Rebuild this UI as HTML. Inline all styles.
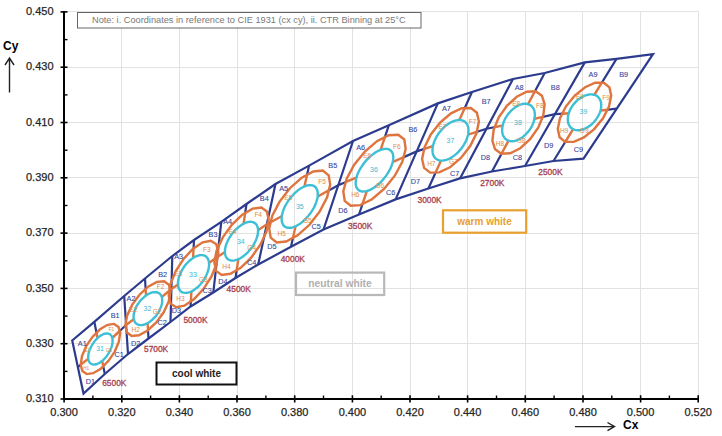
<!DOCTYPE html>
<html><head><meta charset="utf-8"><style>
html,body{margin:0;padding:0;background:#fff;}
svg{display:block;font-family:"Liberation Sans",sans-serif;}
</style></head><body>
<svg width="722" height="436" viewBox="0 0 722 436">
<g stroke="#e2e2e2" stroke-width="1"><line x1="121.5" y1="11" x2="121.5" y2="399" /><line x1="179.5" y1="11" x2="179.5" y2="399" /><line x1="237.5" y1="11" x2="237.5" y2="399" /><line x1="294.5" y1="11" x2="294.5" y2="399" /><line x1="352.5" y1="11" x2="352.5" y2="399" /><line x1="410.5" y1="11" x2="410.5" y2="399" /><line x1="467.5" y1="11" x2="467.5" y2="399" /><line x1="525.5" y1="11" x2="525.5" y2="399" /><line x1="582.5" y1="11" x2="582.5" y2="399" /><line x1="640.5" y1="11" x2="640.5" y2="399" /><line x1="698.5" y1="11" x2="698.5" y2="399" /><line x1="64" y1="343.5" x2="698.5" y2="343.5" /><line x1="64" y1="288.5" x2="698.5" y2="288.5" /><line x1="64" y1="233.5" x2="698.5" y2="233.5" /><line x1="64" y1="177.5" x2="698.5" y2="177.5" /><line x1="64" y1="122.5" x2="698.5" y2="122.5" /><line x1="64" y1="67.5" x2="698.5" y2="67.5" /><line x1="64" y1="11.5" x2="698.5" y2="11.5" /></g>
<defs><mask id="mo" maskUnits="userSpaceOnUse" x="0" y="0" width="722" height="436"><rect x="0" y="0" width="722" height="436" fill="#fff"/><path d="M118.5,326.9 L120.1,333.2 L118.8,342.0 L114.6,351.8 L108.3,361.1 L100.8,368.7 L93.2,373.2 L86.7,374.1 L82.3,371.1 L80.7,364.8 L82.0,356.0 L86.2,346.2 L92.5,336.9 L100.0,329.3 L107.6,324.8 L114.1,323.9Z" fill="#000"/><path d="M168.9,284.7 L170.5,291.8 L168.7,301.5 L163.7,312.3 L156.3,322.5 L147.6,330.5 L138.9,335.3 L131.7,336.0 L126.9,332.5 L125.3,325.4 L127.1,315.7 L132.1,304.9 L139.5,294.7 L148.2,286.7 L156.9,281.9 L164.1,281.2Z" fill="#000"/><path d="M216.3,244.3 L218.3,252.4 L216.6,263.7 L211.4,276.6 L203.4,289.1 L193.9,299.3 L184.4,305.7 L176.2,307.2 L170.7,303.7 L168.7,295.6 L170.4,284.3 L175.6,271.4 L183.6,258.9 L193.1,248.7 L202.6,242.3 L210.8,240.8Z" fill="#000"/><path d="M266.9,211.5 L268.7,220.1 L266.4,231.8 L260.2,245.0 L251.2,257.6 L240.7,267.8 L230.4,273.8 L221.7,274.9 L216.1,270.9 L214.3,262.3 L216.6,250.6 L222.8,237.4 L231.8,224.8 L242.3,214.6 L252.6,208.6 L261.3,207.5Z" fill="#000"/><path d="M328.7,175.3 L330.2,184.6 L327.1,197.3 L319.8,211.4 L309.5,224.8 L297.6,235.3 L286.1,241.5 L276.6,242.4 L270.7,237.7 L269.2,228.4 L272.3,215.7 L279.6,201.6 L289.9,188.2 L301.8,177.7 L313.3,171.5 L322.8,170.6Z" fill="#000"/><path d="M404.3,139.5 L405.7,149.0 L402.3,161.7 L394.8,175.7 L384.1,188.9 L372.0,199.2 L360.3,205.1 L350.7,205.7 L344.7,200.9 L343.3,191.4 L346.7,178.7 L354.2,164.7 L364.9,151.5 L377.0,141.2 L388.7,135.3 L398.3,134.7Z" fill="#000"/><path d="M476.9,112.7 L478.9,121.5 L476.5,133.3 L470.2,146.1 L460.9,158.0 L450.0,167.3 L439.2,172.4 L430.1,172.6 L424.1,167.9 L422.1,159.1 L424.5,147.3 L430.8,134.5 L440.1,122.6 L451.0,113.3 L461.8,108.2 L470.9,108.0Z" fill="#000"/><path d="M541.9,95.7 L544.6,104.1 L543.3,115.4 L538.2,127.7 L530.1,139.2 L520.3,148.2 L510.2,153.3 L501.3,153.7 L495.1,149.3 L492.4,140.9 L493.7,129.6 L498.8,117.3 L506.9,105.8 L516.7,96.8 L526.8,91.7 L535.7,91.3Z" fill="#000"/><path d="M609.4,87.3 L611.2,95.6 L609.0,106.5 L603.0,118.3 L594.2,129.1 L583.9,137.4 L573.8,141.9 L565.2,141.9 L559.6,137.3 L557.8,129.0 L560.0,118.1 L566.0,106.3 L574.8,95.5 L585.1,87.2 L595.2,82.7 L603.8,82.7Z" fill="#000"/></mask><mask id="mi" maskUnits="userSpaceOnUse" x="0" y="0" width="722" height="436"><rect x="0" y="0" width="722" height="436" fill="#000"/><path d="M118.5,326.9 L120.1,333.2 L118.8,342.0 L114.6,351.8 L108.3,361.1 L100.8,368.7 L93.2,373.2 L86.7,374.1 L82.3,371.1 L80.7,364.8 L82.0,356.0 L86.2,346.2 L92.5,336.9 L100.0,329.3 L107.6,324.8 L114.1,323.9Z" fill="#fff"/><path d="M168.9,284.7 L170.5,291.8 L168.7,301.5 L163.7,312.3 L156.3,322.5 L147.6,330.5 L138.9,335.3 L131.7,336.0 L126.9,332.5 L125.3,325.4 L127.1,315.7 L132.1,304.9 L139.5,294.7 L148.2,286.7 L156.9,281.9 L164.1,281.2Z" fill="#fff"/><path d="M216.3,244.3 L218.3,252.4 L216.6,263.7 L211.4,276.6 L203.4,289.1 L193.9,299.3 L184.4,305.7 L176.2,307.2 L170.7,303.7 L168.7,295.6 L170.4,284.3 L175.6,271.4 L183.6,258.9 L193.1,248.7 L202.6,242.3 L210.8,240.8Z" fill="#fff"/><path d="M266.9,211.5 L268.7,220.1 L266.4,231.8 L260.2,245.0 L251.2,257.6 L240.7,267.8 L230.4,273.8 L221.7,274.9 L216.1,270.9 L214.3,262.3 L216.6,250.6 L222.8,237.4 L231.8,224.8 L242.3,214.6 L252.6,208.6 L261.3,207.5Z" fill="#fff"/><path d="M328.7,175.3 L330.2,184.6 L327.1,197.3 L319.8,211.4 L309.5,224.8 L297.6,235.3 L286.1,241.5 L276.6,242.4 L270.7,237.7 L269.2,228.4 L272.3,215.7 L279.6,201.6 L289.9,188.2 L301.8,177.7 L313.3,171.5 L322.8,170.6Z" fill="#fff"/><path d="M404.3,139.5 L405.7,149.0 L402.3,161.7 L394.8,175.7 L384.1,188.9 L372.0,199.2 L360.3,205.1 L350.7,205.7 L344.7,200.9 L343.3,191.4 L346.7,178.7 L354.2,164.7 L364.9,151.5 L377.0,141.2 L388.7,135.3 L398.3,134.7Z" fill="#fff"/><path d="M476.9,112.7 L478.9,121.5 L476.5,133.3 L470.2,146.1 L460.9,158.0 L450.0,167.3 L439.2,172.4 L430.1,172.6 L424.1,167.9 L422.1,159.1 L424.5,147.3 L430.8,134.5 L440.1,122.6 L451.0,113.3 L461.8,108.2 L470.9,108.0Z" fill="#fff"/><path d="M541.9,95.7 L544.6,104.1 L543.3,115.4 L538.2,127.7 L530.1,139.2 L520.3,148.2 L510.2,153.3 L501.3,153.7 L495.1,149.3 L492.4,140.9 L493.7,129.6 L498.8,117.3 L506.9,105.8 L516.7,96.8 L526.8,91.7 L535.7,91.3Z" fill="#fff"/><path d="M609.4,87.3 L611.2,95.6 L609.0,106.5 L603.0,118.3 L594.2,129.1 L583.9,137.4 L573.8,141.9 L565.2,141.9 L559.6,137.3 L557.8,129.0 L560.0,118.1 L566.0,106.3 L574.8,95.5 L585.1,87.2 L595.2,82.7 L603.8,82.7Z" fill="#fff"/><path d="M109.8,334.2 L110.5,334.8 L111.1,335.5 L111.7,336.3 L112.1,337.3 L112.4,338.3 L112.5,339.5 L112.6,340.7 L112.5,342.1 L112.4,343.5 L112.1,344.9 L111.7,346.4 L111.2,347.9 L110.6,349.4 L109.8,351.0 L109.0,352.5 L108.2,353.9 L107.2,355.4 L106.2,356.7 L105.1,358.0 L104.0,359.2 L102.8,360.3 L101.6,361.3 L100.4,362.2 L99.2,362.9 L98.1,363.5 L96.9,364.0 L95.8,364.3 L94.7,364.5 L93.7,364.6 L92.7,364.4 L91.8,364.2 L91.0,363.8 L90.3,363.2 L89.7,362.5 L89.1,361.7 L88.7,360.7 L88.4,359.7 L88.3,358.5 L88.2,357.3 L88.3,355.9 L88.4,354.5 L88.7,353.1 L89.1,351.6 L89.6,350.1 L90.2,348.6 L91.0,347.0 L91.8,345.5 L92.6,344.1 L93.6,342.6 L94.6,341.3 L95.7,340.0 L96.8,338.8 L98.0,337.7 L99.2,336.7 L100.4,335.8 L101.6,335.1 L102.7,334.5 L103.9,334.0 L105.0,333.7 L106.1,333.5 L107.1,333.4 L108.1,333.6 L109.0,333.8Z" fill="#000"/><path d="M159.3,293.4 L160.1,294.1 L160.8,295.0 L161.3,296.0 L161.8,297.1 L162.1,298.3 L162.2,299.6 L162.2,301.0 L162.1,302.5 L161.8,304.0 L161.4,305.6 L160.9,307.2 L160.2,308.8 L159.5,310.4 L158.6,312.0 L157.6,313.6 L156.5,315.1 L155.4,316.6 L154.1,317.9 L152.8,319.2 L151.5,320.4 L150.1,321.5 L148.7,322.4 L147.3,323.3 L145.9,323.9 L144.5,324.5 L143.2,324.8 L141.9,325.0 L140.6,325.1 L139.5,325.0 L138.4,324.8 L137.4,324.3 L136.5,323.8 L135.7,323.1 L135.0,322.2 L134.5,321.2 L134.0,320.1 L133.7,318.9 L133.6,317.6 L133.6,316.2 L133.7,314.7 L134.0,313.2 L134.4,311.6 L134.9,310.0 L135.6,308.4 L136.3,306.8 L137.2,305.2 L138.2,303.6 L139.3,302.1 L140.4,300.6 L141.7,299.3 L143.0,298.0 L144.3,296.8 L145.7,295.7 L147.1,294.8 L148.5,293.9 L149.9,293.3 L151.3,292.7 L152.6,292.4 L153.9,292.2 L155.2,292.1 L156.3,292.2 L157.4,292.4 L158.4,292.9Z" fill="#000"/><path d="M205.7,256.3 L206.6,257.0 L207.3,257.9 L208.0,259.0 L208.5,260.2 L208.8,261.5 L209.0,263.0 L209.1,264.5 L209.0,266.2 L208.7,267.9 L208.4,269.7 L207.8,271.5 L207.1,273.4 L206.3,275.3 L205.4,277.1 L204.4,278.9 L203.2,280.7 L202.0,282.4 L200.7,284.0 L199.3,285.5 L197.8,287.0 L196.3,288.2 L194.8,289.4 L193.3,290.4 L191.8,291.3 L190.3,291.9 L188.8,292.4 L187.3,292.8 L186.0,292.9 L184.7,292.9 L183.5,292.7 L182.3,292.3 L181.3,291.7 L180.4,291.0 L179.7,290.1 L179.0,289.0 L178.5,287.8 L178.2,286.5 L178.0,285.0 L177.9,283.5 L178.0,281.8 L178.3,280.1 L178.6,278.3 L179.2,276.5 L179.9,274.6 L180.7,272.7 L181.6,270.9 L182.6,269.1 L183.8,267.3 L185.0,265.6 L186.3,264.0 L187.7,262.5 L189.2,261.0 L190.7,259.8 L192.2,258.6 L193.7,257.6 L195.2,256.7 L196.7,256.1 L198.2,255.6 L199.7,255.2 L201.0,255.1 L202.3,255.1 L203.5,255.3 L204.7,255.7Z" fill="#000"/><path d="M255.0,223.2 L255.9,224.0 L256.7,225.0 L257.2,226.1 L257.7,227.4 L258.0,228.8 L258.1,230.3 L258.0,231.9 L257.9,233.6 L257.5,235.4 L257.0,237.2 L256.3,239.1 L255.5,241.0 L254.6,242.9 L253.5,244.8 L252.4,246.6 L251.1,248.4 L249.7,250.1 L248.3,251.8 L246.7,253.3 L245.2,254.7 L243.6,256.0 L241.9,257.2 L240.3,258.2 L238.7,259.0 L237.1,259.7 L235.6,260.2 L234.1,260.5 L232.7,260.6 L231.3,260.5 L230.1,260.2 L229.0,259.8 L228.0,259.2 L227.1,258.4 L226.3,257.4 L225.8,256.3 L225.3,255.0 L225.0,253.6 L224.9,252.1 L225.0,250.5 L225.1,248.8 L225.5,247.0 L226.0,245.2 L226.7,243.3 L227.5,241.4 L228.4,239.5 L229.5,237.6 L230.6,235.8 L231.9,234.0 L233.3,232.3 L234.7,230.6 L236.3,229.1 L237.8,227.7 L239.4,226.4 L241.1,225.2 L242.7,224.2 L244.3,223.4 L245.9,222.7 L247.4,222.2 L248.9,221.9 L250.3,221.8 L251.7,221.9 L252.9,222.2 L254.0,222.6Z" fill="#000"/><path d="M314.7,186.5 L315.7,187.4 L316.4,188.4 L317.0,189.6 L317.5,191.0 L317.7,192.5 L317.8,194.1 L317.7,195.9 L317.5,197.7 L317.0,199.7 L316.4,201.7 L315.7,203.8 L314.8,205.9 L313.7,208.0 L312.5,210.0 L311.2,212.1 L309.8,214.1 L308.2,216.0 L306.6,217.8 L305.0,219.6 L303.2,221.1 L301.5,222.6 L299.7,223.9 L297.9,225.0 L296.2,226.0 L294.5,226.7 L292.8,227.3 L291.2,227.7 L289.7,227.8 L288.2,227.8 L286.9,227.6 L285.7,227.1 L284.7,226.5 L283.7,225.6 L283.0,224.6 L282.4,223.4 L281.9,222.0 L281.7,220.5 L281.6,218.9 L281.7,217.1 L281.9,215.3 L282.4,213.3 L283.0,211.3 L283.7,209.2 L284.6,207.1 L285.7,205.0 L286.9,203.0 L288.2,200.9 L289.6,198.9 L291.2,197.0 L292.8,195.2 L294.4,193.4 L296.2,191.9 L297.9,190.4 L299.7,189.1 L301.5,188.0 L303.2,187.0 L304.9,186.3 L306.6,185.7 L308.2,185.3 L309.7,185.2 L311.2,185.2 L312.5,185.4 L313.7,185.9Z" fill="#000"/><path d="M390.5,150.4 L391.4,151.3 L392.1,152.3 L392.7,153.5 L393.1,154.9 L393.3,156.5 L393.3,158.1 L393.1,159.9 L392.8,161.8 L392.2,163.8 L391.6,165.8 L390.7,167.9 L389.7,169.9 L388.5,172.0 L387.2,174.1 L385.8,176.1 L384.3,178.1 L382.7,180.0 L381.0,181.8 L379.2,183.5 L377.4,185.1 L375.6,186.5 L373.7,187.8 L371.9,188.9 L370.1,189.8 L368.3,190.5 L366.6,191.1 L365.0,191.4 L363.4,191.5 L362.0,191.5 L360.7,191.2 L359.5,190.7 L358.5,190.0 L357.6,189.1 L356.9,188.1 L356.3,186.9 L355.9,185.5 L355.7,183.9 L355.7,182.3 L355.9,180.5 L356.2,178.6 L356.8,176.6 L357.4,174.6 L358.3,172.5 L359.3,170.5 L360.5,168.4 L361.8,166.3 L363.2,164.3 L364.7,162.3 L366.3,160.4 L368.0,158.6 L369.8,156.9 L371.6,155.3 L373.4,153.9 L375.3,152.6 L377.1,151.5 L378.9,150.6 L380.7,149.9 L382.4,149.3 L384.0,149.0 L385.6,148.9 L387.0,148.9 L388.3,149.2 L389.5,149.7Z" fill="#000"/><path d="M465.0,121.8 L465.9,122.7 L466.8,123.8 L467.5,125.0 L468.0,126.4 L468.3,127.9 L468.5,129.6 L468.5,131.3 L468.3,133.1 L468.0,135.0 L467.4,137.0 L466.8,139.0 L465.9,140.9 L465.0,142.9 L463.8,144.9 L462.6,146.8 L461.2,148.7 L459.7,150.4 L458.2,152.1 L456.6,153.7 L454.9,155.1 L453.1,156.4 L451.4,157.6 L449.6,158.5 L447.8,159.3 L446.1,159.9 L444.4,160.3 L442.8,160.6 L441.2,160.6 L439.8,160.5 L438.4,160.1 L437.2,159.5 L436.0,158.8 L435.1,157.9 L434.2,156.8 L433.5,155.6 L433.0,154.2 L432.7,152.7 L432.5,151.0 L432.5,149.3 L432.7,147.5 L433.0,145.6 L433.6,143.6 L434.2,141.6 L435.1,139.7 L436.0,137.7 L437.2,135.7 L438.4,133.8 L439.8,131.9 L441.3,130.2 L442.8,128.5 L444.4,126.9 L446.1,125.5 L447.9,124.2 L449.6,123.0 L451.4,122.1 L453.2,121.3 L454.9,120.7 L456.6,120.3 L458.2,120.0 L459.8,120.0 L461.2,120.1 L462.6,120.5 L463.8,121.1Z" fill="#000"/><path d="M530.8,105.5 L531.8,106.4 L532.7,107.4 L533.4,108.5 L534.0,109.8 L534.5,111.2 L534.7,112.7 L534.9,114.3 L534.8,116.0 L534.6,117.8 L534.3,119.6 L533.8,121.4 L533.2,123.2 L532.4,125.0 L531.5,126.9 L530.4,128.6 L529.3,130.3 L528.0,131.9 L526.6,133.5 L525.2,134.9 L523.7,136.2 L522.2,137.4 L520.6,138.4 L519.0,139.3 L517.4,140.0 L515.8,140.6 L514.2,141.0 L512.7,141.2 L511.2,141.2 L509.8,141.0 L508.5,140.7 L507.3,140.2 L506.2,139.5 L505.2,138.6 L504.3,137.6 L503.6,136.5 L503.0,135.2 L502.5,133.8 L502.3,132.3 L502.1,130.7 L502.2,129.0 L502.4,127.2 L502.7,125.4 L503.2,123.6 L503.8,121.8 L504.6,120.0 L505.5,118.1 L506.6,116.4 L507.7,114.7 L509.0,113.1 L510.4,111.5 L511.8,110.1 L513.3,108.8 L514.8,107.6 L516.4,106.6 L518.0,105.7 L519.6,105.0 L521.2,104.4 L522.8,104.0 L524.3,103.8 L525.8,103.8 L527.2,104.0 L528.5,104.3 L529.7,104.8Z" fill="#000"/><path d="M597.7,96.6 L598.6,97.5 L599.4,98.6 L600.1,99.8 L600.6,101.1 L601.0,102.5 L601.2,104.1 L601.2,105.7 L601.1,107.3 L600.9,109.0 L600.4,110.8 L599.8,112.6 L599.1,114.3 L598.2,116.0 L597.2,117.7 L596.1,119.4 L594.8,121.0 L593.5,122.5 L592.1,123.9 L590.6,125.2 L589.0,126.3 L587.4,127.4 L585.8,128.2 L584.1,129.0 L582.5,129.5 L580.9,129.9 L579.3,130.2 L577.8,130.2 L576.3,130.1 L574.9,129.8 L573.6,129.4 L572.4,128.8 L571.3,128.0 L570.4,127.1 L569.6,126.0 L568.9,124.8 L568.4,123.5 L568.0,122.1 L567.8,120.5 L567.8,118.9 L567.9,117.3 L568.1,115.6 L568.6,113.8 L569.2,112.0 L569.9,110.3 L570.8,108.6 L571.8,106.9 L572.9,105.2 L574.2,103.6 L575.5,102.1 L576.9,100.7 L578.4,99.4 L580.0,98.3 L581.6,97.2 L583.2,96.4 L584.9,95.6 L586.5,95.1 L588.1,94.7 L589.7,94.4 L591.2,94.4 L592.7,94.5 L594.1,94.8 L595.4,95.2 L596.6,95.8Z" fill="#000"/></mask></defs>
<path d="M72.2,340.5 L94.3,321.8 L124.2,296.0 L145.0,278.5 L172.3,256.0 L194.0,240.0 L221.3,221.8 L246.5,204.0 L275.5,184.0 L309.1,165.6 L353.0,141.0 L388.8,125.3 L437.8,103.4 L472.0,92.0 L513.0,79.0 L544.7,73.0 L584.8,62.4 L616.5,58.8 L653.0,54.1 L583.5,158.6 L553.5,161.0 L525.0,166.0 L492.0,171.5 L460.0,178.4 L428.4,188.5 L395.6,199.4 L359.0,214.5 L323.5,229.5 L291.0,246.8 L258.2,264.5 L235.5,278.0 L213.3,292.5 L190.6,306.5 L170.5,322.0 L148.5,338.5 L128.0,354.0 L104.8,374.0 L83.5,393.6Z" fill="none" stroke="#2d3b8e" stroke-width="2.2" stroke-linejoin="miter"/>
<path d="M124.2,296.0 L128.0,354.0 M172.3,256.0 L170.5,322.0 M221.3,221.8 L213.3,292.5 M275.5,184.0 L258.2,264.5 M353.0,141.0 L323.5,229.5 M437.8,103.4 L395.6,199.4 M513.0,79.0 L460.0,178.4 M584.8,62.4 L525.0,166.0" stroke="#2d3b8e" stroke-width="2.2" fill="none"/>
<path d="M94.3,321.8 L104.8,374.0 M145.0,278.5 L148.5,338.5 M194.0,240.0 L190.6,306.5 M246.5,204.0 L235.5,278.0 M309.1,165.6 L291.0,246.8 M388.8,125.3 L359.0,214.5 M472.0,92.0 L428.4,188.5 M544.7,73.0 L492.0,171.5 M616.5,58.8 L553.5,161.0 M77.8,367.1 L100.4,349.0 L126.1,325.0 L147.9,308.6 L171.4,289.0 L193.5,274.0 L217.3,257.1 L241.5,241.2 L266.9,224.2 L299.7,206.5 L338.2,185.2 L374.5,170.2 L416.7,151.4 L450.5,140.3 L486.5,128.7 L518.5,122.5 L554.9,114.2 L584.5,112.3 L616.7,108.7" stroke="#2d3b8e" stroke-width="2.2" fill="none" mask="url(#mo)"/>
<path d="M94.3,321.8 L104.8,374.0 M145.0,278.5 L148.5,338.5 M194.0,240.0 L190.6,306.5 M246.5,204.0 L235.5,278.0 M309.1,165.6 L291.0,246.8 M388.8,125.3 L359.0,214.5 M472.0,92.0 L428.4,188.5 M544.7,73.0 L492.0,171.5 M616.5,58.8 L553.5,161.0 M77.8,367.1 L100.4,349.0 L126.1,325.0 L147.9,308.6 L171.4,289.0 L193.5,274.0 L217.3,257.1 L241.5,241.2 L266.9,224.2 L299.7,206.5 L338.2,185.2 L374.5,170.2 L416.7,151.4 L450.5,140.3 L486.5,128.7 L518.5,122.5 L554.9,114.2 L584.5,112.3 L616.7,108.7" stroke="#de743e" stroke-width="2.4" fill="none" mask="url(#mi)"/>
<path d="M118.5,326.9 L120.1,333.2 L118.8,342.0 L114.6,351.8 L108.3,361.1 L100.8,368.7 L93.2,373.2 L86.7,374.1 L82.3,371.1 L80.7,364.8 L82.0,356.0 L86.2,346.2 L92.5,336.9 L100.0,329.3 L107.6,324.8 L114.1,323.9Z" fill="none" stroke="#de743e" stroke-width="2.4"/>
<path d="M168.9,284.7 L170.5,291.8 L168.7,301.5 L163.7,312.3 L156.3,322.5 L147.6,330.5 L138.9,335.3 L131.7,336.0 L126.9,332.5 L125.3,325.4 L127.1,315.7 L132.1,304.9 L139.5,294.7 L148.2,286.7 L156.9,281.9 L164.1,281.2Z" fill="none" stroke="#de743e" stroke-width="2.4"/>
<path d="M216.3,244.3 L218.3,252.4 L216.6,263.7 L211.4,276.6 L203.4,289.1 L193.9,299.3 L184.4,305.7 L176.2,307.2 L170.7,303.7 L168.7,295.6 L170.4,284.3 L175.6,271.4 L183.6,258.9 L193.1,248.7 L202.6,242.3 L210.8,240.8Z" fill="none" stroke="#de743e" stroke-width="2.4"/>
<path d="M266.9,211.5 L268.7,220.1 L266.4,231.8 L260.2,245.0 L251.2,257.6 L240.7,267.8 L230.4,273.8 L221.7,274.9 L216.1,270.9 L214.3,262.3 L216.6,250.6 L222.8,237.4 L231.8,224.8 L242.3,214.6 L252.6,208.6 L261.3,207.5Z" fill="none" stroke="#de743e" stroke-width="2.4"/>
<path d="M328.7,175.3 L330.2,184.6 L327.1,197.3 L319.8,211.4 L309.5,224.8 L297.6,235.3 L286.1,241.5 L276.6,242.4 L270.7,237.7 L269.2,228.4 L272.3,215.7 L279.6,201.6 L289.9,188.2 L301.8,177.7 L313.3,171.5 L322.8,170.6Z" fill="none" stroke="#de743e" stroke-width="2.4"/>
<path d="M404.3,139.5 L405.7,149.0 L402.3,161.7 L394.8,175.7 L384.1,188.9 L372.0,199.2 L360.3,205.1 L350.7,205.7 L344.7,200.9 L343.3,191.4 L346.7,178.7 L354.2,164.7 L364.9,151.5 L377.0,141.2 L388.7,135.3 L398.3,134.7Z" fill="none" stroke="#de743e" stroke-width="2.4"/>
<path d="M476.9,112.7 L478.9,121.5 L476.5,133.3 L470.2,146.1 L460.9,158.0 L450.0,167.3 L439.2,172.4 L430.1,172.6 L424.1,167.9 L422.1,159.1 L424.5,147.3 L430.8,134.5 L440.1,122.6 L451.0,113.3 L461.8,108.2 L470.9,108.0Z" fill="none" stroke="#de743e" stroke-width="2.4"/>
<path d="M541.9,95.7 L544.6,104.1 L543.3,115.4 L538.2,127.7 L530.1,139.2 L520.3,148.2 L510.2,153.3 L501.3,153.7 L495.1,149.3 L492.4,140.9 L493.7,129.6 L498.8,117.3 L506.9,105.8 L516.7,96.8 L526.8,91.7 L535.7,91.3Z" fill="none" stroke="#de743e" stroke-width="2.4"/>
<path d="M609.4,87.3 L611.2,95.6 L609.0,106.5 L603.0,118.3 L594.2,129.1 L583.9,137.4 L573.8,141.9 L565.2,141.9 L559.6,137.3 L557.8,129.0 L560.0,118.1 L566.0,106.3 L574.8,95.5 L585.1,87.2 L595.2,82.7 L603.8,82.7Z" fill="none" stroke="#de743e" stroke-width="2.4"/>
<path d="M109.8,334.2 L110.5,334.8 L111.1,335.5 L111.7,336.3 L112.1,337.3 L112.4,338.3 L112.5,339.5 L112.6,340.7 L112.5,342.1 L112.4,343.5 L112.1,344.9 L111.7,346.4 L111.2,347.9 L110.6,349.4 L109.8,351.0 L109.0,352.5 L108.2,353.9 L107.2,355.4 L106.2,356.7 L105.1,358.0 L104.0,359.2 L102.8,360.3 L101.6,361.3 L100.4,362.2 L99.2,362.9 L98.1,363.5 L96.9,364.0 L95.8,364.3 L94.7,364.5 L93.7,364.6 L92.7,364.4 L91.8,364.2 L91.0,363.8 L90.3,363.2 L89.7,362.5 L89.1,361.7 L88.7,360.7 L88.4,359.7 L88.3,358.5 L88.2,357.3 L88.3,355.9 L88.4,354.5 L88.7,353.1 L89.1,351.6 L89.6,350.1 L90.2,348.6 L91.0,347.0 L91.8,345.5 L92.6,344.1 L93.6,342.6 L94.6,341.3 L95.7,340.0 L96.8,338.8 L98.0,337.7 L99.2,336.7 L100.4,335.8 L101.6,335.1 L102.7,334.5 L103.9,334.0 L105.0,333.7 L106.1,333.5 L107.1,333.4 L108.1,333.6 L109.0,333.8Z" fill="none" stroke="#3dbfd6" stroke-width="2.4"/>
<path d="M159.3,293.4 L160.1,294.1 L160.8,295.0 L161.3,296.0 L161.8,297.1 L162.1,298.3 L162.2,299.6 L162.2,301.0 L162.1,302.5 L161.8,304.0 L161.4,305.6 L160.9,307.2 L160.2,308.8 L159.5,310.4 L158.6,312.0 L157.6,313.6 L156.5,315.1 L155.4,316.6 L154.1,317.9 L152.8,319.2 L151.5,320.4 L150.1,321.5 L148.7,322.4 L147.3,323.3 L145.9,323.9 L144.5,324.5 L143.2,324.8 L141.9,325.0 L140.6,325.1 L139.5,325.0 L138.4,324.8 L137.4,324.3 L136.5,323.8 L135.7,323.1 L135.0,322.2 L134.5,321.2 L134.0,320.1 L133.7,318.9 L133.6,317.6 L133.6,316.2 L133.7,314.7 L134.0,313.2 L134.4,311.6 L134.9,310.0 L135.6,308.4 L136.3,306.8 L137.2,305.2 L138.2,303.6 L139.3,302.1 L140.4,300.6 L141.7,299.3 L143.0,298.0 L144.3,296.8 L145.7,295.7 L147.1,294.8 L148.5,293.9 L149.9,293.3 L151.3,292.7 L152.6,292.4 L153.9,292.2 L155.2,292.1 L156.3,292.2 L157.4,292.4 L158.4,292.9Z" fill="none" stroke="#3dbfd6" stroke-width="2.4"/>
<path d="M205.7,256.3 L206.6,257.0 L207.3,257.9 L208.0,259.0 L208.5,260.2 L208.8,261.5 L209.0,263.0 L209.1,264.5 L209.0,266.2 L208.7,267.9 L208.4,269.7 L207.8,271.5 L207.1,273.4 L206.3,275.3 L205.4,277.1 L204.4,278.9 L203.2,280.7 L202.0,282.4 L200.7,284.0 L199.3,285.5 L197.8,287.0 L196.3,288.2 L194.8,289.4 L193.3,290.4 L191.8,291.3 L190.3,291.9 L188.8,292.4 L187.3,292.8 L186.0,292.9 L184.7,292.9 L183.5,292.7 L182.3,292.3 L181.3,291.7 L180.4,291.0 L179.7,290.1 L179.0,289.0 L178.5,287.8 L178.2,286.5 L178.0,285.0 L177.9,283.5 L178.0,281.8 L178.3,280.1 L178.6,278.3 L179.2,276.5 L179.9,274.6 L180.7,272.7 L181.6,270.9 L182.6,269.1 L183.8,267.3 L185.0,265.6 L186.3,264.0 L187.7,262.5 L189.2,261.0 L190.7,259.8 L192.2,258.6 L193.7,257.6 L195.2,256.7 L196.7,256.1 L198.2,255.6 L199.7,255.2 L201.0,255.1 L202.3,255.1 L203.5,255.3 L204.7,255.7Z" fill="none" stroke="#3dbfd6" stroke-width="2.4"/>
<path d="M255.0,223.2 L255.9,224.0 L256.7,225.0 L257.2,226.1 L257.7,227.4 L258.0,228.8 L258.1,230.3 L258.0,231.9 L257.9,233.6 L257.5,235.4 L257.0,237.2 L256.3,239.1 L255.5,241.0 L254.6,242.9 L253.5,244.8 L252.4,246.6 L251.1,248.4 L249.7,250.1 L248.3,251.8 L246.7,253.3 L245.2,254.7 L243.6,256.0 L241.9,257.2 L240.3,258.2 L238.7,259.0 L237.1,259.7 L235.6,260.2 L234.1,260.5 L232.7,260.6 L231.3,260.5 L230.1,260.2 L229.0,259.8 L228.0,259.2 L227.1,258.4 L226.3,257.4 L225.8,256.3 L225.3,255.0 L225.0,253.6 L224.9,252.1 L225.0,250.5 L225.1,248.8 L225.5,247.0 L226.0,245.2 L226.7,243.3 L227.5,241.4 L228.4,239.5 L229.5,237.6 L230.6,235.8 L231.9,234.0 L233.3,232.3 L234.7,230.6 L236.3,229.1 L237.8,227.7 L239.4,226.4 L241.1,225.2 L242.7,224.2 L244.3,223.4 L245.9,222.7 L247.4,222.2 L248.9,221.9 L250.3,221.8 L251.7,221.9 L252.9,222.2 L254.0,222.6Z" fill="none" stroke="#3dbfd6" stroke-width="2.4"/>
<path d="M314.7,186.5 L315.7,187.4 L316.4,188.4 L317.0,189.6 L317.5,191.0 L317.7,192.5 L317.8,194.1 L317.7,195.9 L317.5,197.7 L317.0,199.7 L316.4,201.7 L315.7,203.8 L314.8,205.9 L313.7,208.0 L312.5,210.0 L311.2,212.1 L309.8,214.1 L308.2,216.0 L306.6,217.8 L305.0,219.6 L303.2,221.1 L301.5,222.6 L299.7,223.9 L297.9,225.0 L296.2,226.0 L294.5,226.7 L292.8,227.3 L291.2,227.7 L289.7,227.8 L288.2,227.8 L286.9,227.6 L285.7,227.1 L284.7,226.5 L283.7,225.6 L283.0,224.6 L282.4,223.4 L281.9,222.0 L281.7,220.5 L281.6,218.9 L281.7,217.1 L281.9,215.3 L282.4,213.3 L283.0,211.3 L283.7,209.2 L284.6,207.1 L285.7,205.0 L286.9,203.0 L288.2,200.9 L289.6,198.9 L291.2,197.0 L292.8,195.2 L294.4,193.4 L296.2,191.9 L297.9,190.4 L299.7,189.1 L301.5,188.0 L303.2,187.0 L304.9,186.3 L306.6,185.7 L308.2,185.3 L309.7,185.2 L311.2,185.2 L312.5,185.4 L313.7,185.9Z" fill="none" stroke="#3dbfd6" stroke-width="2.4"/>
<path d="M390.5,150.4 L391.4,151.3 L392.1,152.3 L392.7,153.5 L393.1,154.9 L393.3,156.5 L393.3,158.1 L393.1,159.9 L392.8,161.8 L392.2,163.8 L391.6,165.8 L390.7,167.9 L389.7,169.9 L388.5,172.0 L387.2,174.1 L385.8,176.1 L384.3,178.1 L382.7,180.0 L381.0,181.8 L379.2,183.5 L377.4,185.1 L375.6,186.5 L373.7,187.8 L371.9,188.9 L370.1,189.8 L368.3,190.5 L366.6,191.1 L365.0,191.4 L363.4,191.5 L362.0,191.5 L360.7,191.2 L359.5,190.7 L358.5,190.0 L357.6,189.1 L356.9,188.1 L356.3,186.9 L355.9,185.5 L355.7,183.9 L355.7,182.3 L355.9,180.5 L356.2,178.6 L356.8,176.6 L357.4,174.6 L358.3,172.5 L359.3,170.5 L360.5,168.4 L361.8,166.3 L363.2,164.3 L364.7,162.3 L366.3,160.4 L368.0,158.6 L369.8,156.9 L371.6,155.3 L373.4,153.9 L375.3,152.6 L377.1,151.5 L378.9,150.6 L380.7,149.9 L382.4,149.3 L384.0,149.0 L385.6,148.9 L387.0,148.9 L388.3,149.2 L389.5,149.7Z" fill="none" stroke="#3dbfd6" stroke-width="2.4"/>
<path d="M465.0,121.8 L465.9,122.7 L466.8,123.8 L467.5,125.0 L468.0,126.4 L468.3,127.9 L468.5,129.6 L468.5,131.3 L468.3,133.1 L468.0,135.0 L467.4,137.0 L466.8,139.0 L465.9,140.9 L465.0,142.9 L463.8,144.9 L462.6,146.8 L461.2,148.7 L459.7,150.4 L458.2,152.1 L456.6,153.7 L454.9,155.1 L453.1,156.4 L451.4,157.6 L449.6,158.5 L447.8,159.3 L446.1,159.9 L444.4,160.3 L442.8,160.6 L441.2,160.6 L439.8,160.5 L438.4,160.1 L437.2,159.5 L436.0,158.8 L435.1,157.9 L434.2,156.8 L433.5,155.6 L433.0,154.2 L432.7,152.7 L432.5,151.0 L432.5,149.3 L432.7,147.5 L433.0,145.6 L433.6,143.6 L434.2,141.6 L435.1,139.7 L436.0,137.7 L437.2,135.7 L438.4,133.8 L439.8,131.9 L441.3,130.2 L442.8,128.5 L444.4,126.9 L446.1,125.5 L447.9,124.2 L449.6,123.0 L451.4,122.1 L453.2,121.3 L454.9,120.7 L456.6,120.3 L458.2,120.0 L459.8,120.0 L461.2,120.1 L462.6,120.5 L463.8,121.1Z" fill="none" stroke="#3dbfd6" stroke-width="2.4"/>
<path d="M530.8,105.5 L531.8,106.4 L532.7,107.4 L533.4,108.5 L534.0,109.8 L534.5,111.2 L534.7,112.7 L534.9,114.3 L534.8,116.0 L534.6,117.8 L534.3,119.6 L533.8,121.4 L533.2,123.2 L532.4,125.0 L531.5,126.9 L530.4,128.6 L529.3,130.3 L528.0,131.9 L526.6,133.5 L525.2,134.9 L523.7,136.2 L522.2,137.4 L520.6,138.4 L519.0,139.3 L517.4,140.0 L515.8,140.6 L514.2,141.0 L512.7,141.2 L511.2,141.2 L509.8,141.0 L508.5,140.7 L507.3,140.2 L506.2,139.5 L505.2,138.6 L504.3,137.6 L503.6,136.5 L503.0,135.2 L502.5,133.8 L502.3,132.3 L502.1,130.7 L502.2,129.0 L502.4,127.2 L502.7,125.4 L503.2,123.6 L503.8,121.8 L504.6,120.0 L505.5,118.1 L506.6,116.4 L507.7,114.7 L509.0,113.1 L510.4,111.5 L511.8,110.1 L513.3,108.8 L514.8,107.6 L516.4,106.6 L518.0,105.7 L519.6,105.0 L521.2,104.4 L522.8,104.0 L524.3,103.8 L525.8,103.8 L527.2,104.0 L528.5,104.3 L529.7,104.8Z" fill="none" stroke="#3dbfd6" stroke-width="2.4"/>
<path d="M597.7,96.6 L598.6,97.5 L599.4,98.6 L600.1,99.8 L600.6,101.1 L601.0,102.5 L601.2,104.1 L601.2,105.7 L601.1,107.3 L600.9,109.0 L600.4,110.8 L599.8,112.6 L599.1,114.3 L598.2,116.0 L597.2,117.7 L596.1,119.4 L594.8,121.0 L593.5,122.5 L592.1,123.9 L590.6,125.2 L589.0,126.3 L587.4,127.4 L585.8,128.2 L584.1,129.0 L582.5,129.5 L580.9,129.9 L579.3,130.2 L577.8,130.2 L576.3,130.1 L574.9,129.8 L573.6,129.4 L572.4,128.8 L571.3,128.0 L570.4,127.1 L569.6,126.0 L568.9,124.8 L568.4,123.5 L568.0,122.1 L567.8,120.5 L567.8,118.9 L567.9,117.3 L568.1,115.6 L568.6,113.8 L569.2,112.0 L569.9,110.3 L570.8,108.6 L571.8,106.9 L572.9,105.2 L574.2,103.6 L575.5,102.1 L576.9,100.7 L578.4,99.4 L580.0,98.3 L581.6,97.2 L583.2,96.4 L584.9,95.6 L586.5,95.1 L588.1,94.7 L589.7,94.4 L591.2,94.4 L592.7,94.5 L594.1,94.8 L595.4,95.2 L596.6,95.8Z" fill="none" stroke="#3dbfd6" stroke-width="2.4"/>
<line x1="64" y1="11" x2="64" y2="400" stroke="#000" stroke-width="2"/><line x1="63" y1="399" x2="698" y2="399" stroke="#000" stroke-width="2"/><line x1="64.1" y1="395.3" x2="64.1" y2="402.5" stroke="#000" stroke-width="1.6"/><line x1="92.9" y1="395.5" x2="92.9" y2="399" stroke="#000" stroke-width="1.4"/><line x1="121.8" y1="395.3" x2="121.8" y2="402.5" stroke="#000" stroke-width="1.6"/><line x1="150.6" y1="395.5" x2="150.6" y2="399" stroke="#000" stroke-width="1.4"/><line x1="179.4" y1="395.3" x2="179.4" y2="402.5" stroke="#000" stroke-width="1.6"/><line x1="208.2" y1="395.5" x2="208.2" y2="399" stroke="#000" stroke-width="1.4"/><line x1="237.0" y1="395.3" x2="237.0" y2="402.5" stroke="#000" stroke-width="1.6"/><line x1="265.9" y1="395.5" x2="265.9" y2="399" stroke="#000" stroke-width="1.4"/><line x1="294.7" y1="395.3" x2="294.7" y2="402.5" stroke="#000" stroke-width="1.6"/><line x1="323.5" y1="395.5" x2="323.5" y2="399" stroke="#000" stroke-width="1.4"/><line x1="352.4" y1="395.3" x2="352.4" y2="402.5" stroke="#000" stroke-width="1.6"/><line x1="381.2" y1="395.5" x2="381.2" y2="399" stroke="#000" stroke-width="1.4"/><line x1="410.0" y1="395.3" x2="410.0" y2="402.5" stroke="#000" stroke-width="1.6"/><line x1="438.8" y1="395.5" x2="438.8" y2="399" stroke="#000" stroke-width="1.4"/><line x1="467.6" y1="395.3" x2="467.6" y2="402.5" stroke="#000" stroke-width="1.6"/><line x1="496.5" y1="395.5" x2="496.5" y2="399" stroke="#000" stroke-width="1.4"/><line x1="525.3" y1="395.3" x2="525.3" y2="402.5" stroke="#000" stroke-width="1.6"/><line x1="554.1" y1="395.5" x2="554.1" y2="399" stroke="#000" stroke-width="1.4"/><line x1="583.0" y1="395.3" x2="583.0" y2="402.5" stroke="#000" stroke-width="1.6"/><line x1="611.8" y1="395.5" x2="611.8" y2="399" stroke="#000" stroke-width="1.4"/><line x1="640.6" y1="395.3" x2="640.6" y2="402.5" stroke="#000" stroke-width="1.6"/><line x1="669.4" y1="395.5" x2="669.4" y2="399" stroke="#000" stroke-width="1.4"/><line x1="698.2" y1="395.3" x2="698.2" y2="402.5" stroke="#000" stroke-width="1.6"/><line x1="60.5" y1="399.0" x2="67.5" y2="399.0" stroke="#000" stroke-width="1.6"/><line x1="64" y1="371.4" x2="67.5" y2="371.4" stroke="#000" stroke-width="1.4"/><line x1="60.5" y1="343.7" x2="67.5" y2="343.7" stroke="#000" stroke-width="1.6"/><line x1="64" y1="316.1" x2="67.5" y2="316.1" stroke="#000" stroke-width="1.4"/><line x1="60.5" y1="288.4" x2="67.5" y2="288.4" stroke="#000" stroke-width="1.6"/><line x1="64" y1="260.8" x2="67.5" y2="260.8" stroke="#000" stroke-width="1.4"/><line x1="60.5" y1="233.1" x2="67.5" y2="233.1" stroke="#000" stroke-width="1.6"/><line x1="64" y1="205.5" x2="67.5" y2="205.5" stroke="#000" stroke-width="1.4"/><line x1="60.5" y1="177.8" x2="67.5" y2="177.8" stroke="#000" stroke-width="1.6"/><line x1="64" y1="150.2" x2="67.5" y2="150.2" stroke="#000" stroke-width="1.4"/><line x1="60.5" y1="122.5" x2="67.5" y2="122.5" stroke="#000" stroke-width="1.6"/><line x1="64" y1="94.9" x2="67.5" y2="94.9" stroke="#000" stroke-width="1.4"/><line x1="60.5" y1="67.2" x2="67.5" y2="67.2" stroke="#000" stroke-width="1.6"/><line x1="64" y1="39.6" x2="67.5" y2="39.6" stroke="#000" stroke-width="1.4"/><line x1="60.5" y1="11.9" x2="67.5" y2="11.9" stroke="#000" stroke-width="1.6"/>
<text x="53.5" y="402.1" font-size="11" fill="#262626" text-anchor="end" font-weight="normal" stroke="#262626" stroke-width="0.25">0.310</text><text x="53.5" y="346.8" font-size="11" fill="#262626" text-anchor="end" font-weight="normal" stroke="#262626" stroke-width="0.25">0.330</text><text x="53.5" y="291.5" font-size="11" fill="#262626" text-anchor="end" font-weight="normal" stroke="#262626" stroke-width="0.25">0.350</text><text x="53.5" y="236.2" font-size="11" fill="#262626" text-anchor="end" font-weight="normal" stroke="#262626" stroke-width="0.25">0.370</text><text x="53.5" y="180.9" font-size="11" fill="#262626" text-anchor="end" font-weight="normal" stroke="#262626" stroke-width="0.25">0.390</text><text x="53.5" y="125.6" font-size="11" fill="#262626" text-anchor="end" font-weight="normal" stroke="#262626" stroke-width="0.25">0.410</text><text x="53.5" y="70.3" font-size="11" fill="#262626" text-anchor="end" font-weight="normal" stroke="#262626" stroke-width="0.25">0.430</text><text x="53.5" y="15.0" font-size="11" fill="#262626" text-anchor="end" font-weight="normal" stroke="#262626" stroke-width="0.25">0.450</text><text x="64.1" y="416" font-size="11" fill="#262626" text-anchor="middle" font-weight="normal" stroke="#262626" stroke-width="0.25">0.300</text><text x="121.8" y="416" font-size="11" fill="#262626" text-anchor="middle" font-weight="normal" stroke="#262626" stroke-width="0.25">0.320</text><text x="179.4" y="416" font-size="11" fill="#262626" text-anchor="middle" font-weight="normal" stroke="#262626" stroke-width="0.25">0.340</text><text x="237.0" y="416" font-size="11" fill="#262626" text-anchor="middle" font-weight="normal" stroke="#262626" stroke-width="0.25">0.360</text><text x="294.7" y="416" font-size="11" fill="#262626" text-anchor="middle" font-weight="normal" stroke="#262626" stroke-width="0.25">0.380</text><text x="352.4" y="416" font-size="11" fill="#262626" text-anchor="middle" font-weight="normal" stroke="#262626" stroke-width="0.25">0.400</text><text x="410.0" y="416" font-size="11" fill="#262626" text-anchor="middle" font-weight="normal" stroke="#262626" stroke-width="0.25">0.420</text><text x="467.6" y="416" font-size="11" fill="#262626" text-anchor="middle" font-weight="normal" stroke="#262626" stroke-width="0.25">0.440</text><text x="525.3" y="416" font-size="11" fill="#262626" text-anchor="middle" font-weight="normal" stroke="#262626" stroke-width="0.25">0.460</text><text x="583.0" y="416" font-size="11" fill="#262626" text-anchor="middle" font-weight="normal" stroke="#262626" stroke-width="0.25">0.480</text><text x="640.6" y="416" font-size="11" fill="#262626" text-anchor="middle" font-weight="normal" stroke="#262626" stroke-width="0.25">0.500</text><text x="698.2" y="416" font-size="11" fill="#262626" text-anchor="middle" font-weight="normal" stroke="#262626" stroke-width="0.25">0.520</text><text x="3" y="49.5" font-size="12" fill="#000" text-anchor="start" font-weight="bold" >Cy</text><text x="623" y="429" font-size="12" fill="#000" text-anchor="start" font-weight="bold" >Cx</text>
<path d="M9.5,92.5 L9.5,58.5 M5,65 L9.5,58 L14,65" stroke="#222" stroke-width="1.4" fill="none"/>
<path d="M575,426.6 L614.5,426.6 M607.5,422.5 L614.5,426.6 L607.5,430.7" stroke="#222" stroke-width="1.4" fill="none"/>
<text x="82.3" y="345.7" font-size="7.3" fill="#34449a" stroke="#34449a" stroke-width="0.08" text-anchor="middle">A1</text><text x="115.2" y="318.3" font-size="7.3" fill="#34449a" stroke="#34449a" stroke-width="0.08" text-anchor="middle">B1</text><text x="119.2" y="357.3" font-size="7.3" fill="#34449a" stroke="#34449a" stroke-width="0.08" text-anchor="middle">C1</text><text x="90.4" y="384.0" font-size="7.3" fill="#34449a" stroke="#34449a" stroke-width="0.08" text-anchor="middle">D1</text><text x="87.5" y="352.0" font-size="4.7" fill="#e08a4a" text-anchor="middle">E1</text><text x="111.4" y="331.2" font-size="4.7" fill="#e08a4a" text-anchor="middle">F1</text><text x="108.9" y="352.0" font-size="4.7" fill="#e08a4a" text-anchor="middle">G1</text><text x="86.2" y="370.2" font-size="4.7" fill="#e08a4a" text-anchor="middle">H1</text><text x="100.1" y="351.1" font-size="7" fill="#3cb8d0" text-anchor="middle">31</text><text x="114.3" y="386.0" font-size="8.4" fill="#a8404c" stroke="#a8404c" stroke-width="0.3" text-anchor="middle">6500K</text><text x="131.0" y="300.8" font-size="7.3" fill="#34449a" stroke="#34449a" stroke-width="0.08" text-anchor="middle">A2</text><text x="162.7" y="276.7" font-size="7.3" fill="#34449a" stroke="#34449a" stroke-width="0.08" text-anchor="middle">B2</text><text x="162.1" y="324.6" font-size="7.3" fill="#34449a" stroke="#34449a" stroke-width="0.08" text-anchor="middle">C2</text><text x="135.6" y="346.2" font-size="7.3" fill="#34449a" stroke="#34449a" stroke-width="0.08" text-anchor="middle">D2</text><text x="133.3" y="312.3" font-size="6.5" fill="#e08a4a" text-anchor="middle">E2</text><text x="160.5" y="288.9" font-size="6.5" fill="#e08a4a" text-anchor="middle">F2</text><text x="157.0" y="313.6" font-size="6.5" fill="#e08a4a" text-anchor="middle">G2</text><text x="135.6" y="331.6" font-size="6.5" fill="#e08a4a" text-anchor="middle">H2</text><text x="147.5" y="310.9" font-size="7" fill="#3cb8d0" text-anchor="middle">32</text><text x="156.1" y="352.1" font-size="8.4" fill="#a8404c" stroke="#a8404c" stroke-width="0.3" text-anchor="middle">5700K</text><text x="178.6" y="259.2" font-size="7.3" fill="#34449a" stroke="#34449a" stroke-width="0.08" text-anchor="middle">A3</text><text x="213.0" y="237.4" font-size="7.3" fill="#34449a" stroke="#34449a" stroke-width="0.08" text-anchor="middle">B3</text><text x="207.1" y="293.2" font-size="7.3" fill="#34449a" stroke="#34449a" stroke-width="0.08" text-anchor="middle">C3</text><text x="176.4" y="313.3" font-size="7.3" fill="#34449a" stroke="#34449a" stroke-width="0.08" text-anchor="middle">D3</text><text x="178.4" y="276.1" font-size="6.5" fill="#e08a4a" text-anchor="middle">E3</text><text x="206.8" y="252.3" font-size="6.5" fill="#e08a4a" text-anchor="middle">F3</text><text x="203.3" y="281.5" font-size="6.5" fill="#e08a4a" text-anchor="middle">G3</text><text x="180.4" y="301.0" font-size="6.5" fill="#e08a4a" text-anchor="middle">H3</text><text x="193.0" y="276.8" font-size="7" fill="#3cb8d0" text-anchor="middle">33</text><text x="195.5" y="323.1" font-size="8.4" fill="#a8404c" stroke="#a8404c" stroke-width="0.3" text-anchor="middle">5000K</text><text x="227.6" y="223.8" font-size="7.3" fill="#34449a" stroke="#34449a" stroke-width="0.08" text-anchor="middle">A4</text><text x="264.3" y="201.4" font-size="7.3" fill="#34449a" stroke="#34449a" stroke-width="0.08" text-anchor="middle">B4</text><text x="251.7" y="264.5" font-size="7.3" fill="#34449a" stroke="#34449a" stroke-width="0.08" text-anchor="middle">C4</text><text x="222.9" y="283.5" font-size="7.3" fill="#34449a" stroke="#34449a" stroke-width="0.08" text-anchor="middle">D4</text><text x="232.4" y="233.5" font-size="6.5" fill="#e08a4a" text-anchor="middle">E4</text><text x="258.2" y="217.0" font-size="6.5" fill="#e08a4a" text-anchor="middle">F4</text><text x="251.7" y="250.3" font-size="6.5" fill="#e08a4a" text-anchor="middle">G4</text><text x="226.5" y="269.0" font-size="6.5" fill="#e08a4a" text-anchor="middle">H4</text><text x="240.8" y="244.0" font-size="7" fill="#3cb8d0" text-anchor="middle">34</text><text x="238.7" y="292.1" font-size="8.4" fill="#a8404c" stroke="#a8404c" stroke-width="0.3" text-anchor="middle">4500K</text><text x="283.6" y="191.2" font-size="7.3" fill="#34449a" stroke="#34449a" stroke-width="0.08" text-anchor="middle">A5</text><text x="332.8" y="168.3" font-size="7.3" fill="#34449a" stroke="#34449a" stroke-width="0.08" text-anchor="middle">B5</text><text x="316.2" y="229.3" font-size="7.3" fill="#34449a" stroke="#34449a" stroke-width="0.08" text-anchor="middle">C5</text><text x="272.0" y="249.4" font-size="7.3" fill="#34449a" stroke="#34449a" stroke-width="0.08" text-anchor="middle">D5</text><text x="288.3" y="199.7" font-size="6.5" fill="#e08a4a" text-anchor="middle">E5</text><text x="322.1" y="183.9" font-size="6.5" fill="#e08a4a" text-anchor="middle">F5</text><text x="307.4" y="222.7" font-size="6.5" fill="#e08a4a" text-anchor="middle">G5</text><text x="281.7" y="235.9" font-size="6.5" fill="#e08a4a" text-anchor="middle">H5</text><text x="299.8" y="209.1" font-size="7" fill="#3cb8d0" text-anchor="middle">35</text><text x="292.8" y="261.8" font-size="8.4" fill="#a8404c" stroke="#a8404c" stroke-width="0.3" text-anchor="middle">4000K</text><text x="360.6" y="150.1" font-size="7.3" fill="#34449a" stroke="#34449a" stroke-width="0.08" text-anchor="middle">A6</text><text x="412.9" y="132.2" font-size="7.3" fill="#34449a" stroke="#34449a" stroke-width="0.08" text-anchor="middle">B6</text><text x="390.6" y="194.6" font-size="7.3" fill="#34449a" stroke="#34449a" stroke-width="0.08" text-anchor="middle">C6</text><text x="342.8" y="212.5" font-size="7.3" fill="#34449a" stroke="#34449a" stroke-width="0.08" text-anchor="middle">D6</text><text x="367.2" y="157.8" font-size="6.5" fill="#e08a4a" text-anchor="middle">E6</text><text x="396.8" y="148.6" font-size="6.5" fill="#e08a4a" text-anchor="middle">F6</text><text x="379.8" y="187.6" font-size="6.5" fill="#e08a4a" text-anchor="middle">G6</text><text x="355.3" y="196.7" font-size="6.5" fill="#e08a4a" text-anchor="middle">H6</text><text x="374.0" y="171.9" font-size="7" fill="#3cb8d0" text-anchor="middle">36</text><text x="360.2" y="228.9" font-size="8.4" fill="#a8404c" stroke="#a8404c" stroke-width="0.3" text-anchor="middle">3500K</text><text x="446.4" y="111.3" font-size="7.3" fill="#34449a" stroke="#34449a" stroke-width="0.08" text-anchor="middle">A7</text><text x="486.1" y="103.9" font-size="7.3" fill="#34449a" stroke="#34449a" stroke-width="0.08" text-anchor="middle">B7</text><text x="454.6" y="175.9" font-size="7.3" fill="#34449a" stroke="#34449a" stroke-width="0.08" text-anchor="middle">C7</text><text x="415.5" y="183.9" font-size="7.3" fill="#34449a" stroke="#34449a" stroke-width="0.08" text-anchor="middle">D7</text><text x="442.4" y="129.1" font-size="6.5" fill="#e08a4a" text-anchor="middle">E7</text><text x="472.5" y="123.5" font-size="6.5" fill="#e08a4a" text-anchor="middle">F7</text><text x="453.3" y="164.0" font-size="6.5" fill="#e08a4a" text-anchor="middle">G7</text><text x="431.3" y="165.9" font-size="6.5" fill="#e08a4a" text-anchor="middle">H7</text><text x="450.5" y="143.0" font-size="7" fill="#3cb8d0" text-anchor="middle">37</text><text x="429.6" y="202.5" font-size="8.4" fill="#a8404c" stroke="#a8404c" stroke-width="0.3" text-anchor="middle">3000K</text><text x="519.1" y="90.1" font-size="7.3" fill="#34449a" stroke="#34449a" stroke-width="0.08" text-anchor="middle">A8</text><text x="555.3" y="89.7" font-size="7.3" fill="#34449a" stroke="#34449a" stroke-width="0.08" text-anchor="middle">B8</text><text x="517.4" y="160.4" font-size="7.3" fill="#34449a" stroke="#34449a" stroke-width="0.08" text-anchor="middle">C8</text><text x="485.5" y="160.2" font-size="7.3" fill="#34449a" stroke="#34449a" stroke-width="0.08" text-anchor="middle">D8</text><text x="516.2" y="106.3" font-size="6.5" fill="#e08a4a" text-anchor="middle">E8</text><text x="539.9" y="107.7" font-size="6.5" fill="#e08a4a" text-anchor="middle">F8</text><text x="521.1" y="142.7" font-size="6.5" fill="#e08a4a" text-anchor="middle">G8</text><text x="499.9" y="145.5" font-size="6.5" fill="#e08a4a" text-anchor="middle">H8</text><text x="518.0" y="124.8" font-size="7" fill="#3cb8d0" text-anchor="middle">38</text><text x="492.3" y="186.0" font-size="8.4" fill="#a8404c" stroke="#a8404c" stroke-width="0.3" text-anchor="middle">2700K</text><text x="593.0" y="76.7" font-size="7.3" fill="#34449a" stroke="#34449a" stroke-width="0.08" text-anchor="middle">A9</text><text x="623.6" y="76.7" font-size="7.3" fill="#34449a" stroke="#34449a" stroke-width="0.08" text-anchor="middle">B9</text><text x="578.5" y="152.0" font-size="7.3" fill="#34449a" stroke="#34449a" stroke-width="0.08" text-anchor="middle">C9</text><text x="548.6" y="148.0" font-size="7.3" fill="#34449a" stroke="#34449a" stroke-width="0.08" text-anchor="middle">D9</text><text x="580.0" y="98.8" font-size="6.5" fill="#e08a4a" text-anchor="middle">E9</text><text x="606.0" y="100.0" font-size="6.5" fill="#e08a4a" text-anchor="middle">F9</text><text x="584.2" y="133.3" font-size="6.5" fill="#e08a4a" text-anchor="middle">G9</text><text x="564.2" y="132.6" font-size="6.5" fill="#e08a4a" text-anchor="middle">H9</text><text x="583.5" y="114.0" font-size="7" fill="#3cb8d0" text-anchor="middle">39</text><text x="550.4" y="174.7" font-size="8.4" fill="#a8404c" stroke="#a8404c" stroke-width="0.3" text-anchor="middle">2500K</text>
<rect x="77.5" y="12.5" width="343.5" height="15.5" fill="#fff" stroke="#666" stroke-width="1"/>
<text x="92" y="23.0" font-size="9.6" fill="#7a7a7a" textLength="313.6" lengthAdjust="spacingAndGlyphs">Note: i. Coordinates in reference to CIE 1931 (cx cy), ii. CTR Binning at 25°C</text>
<rect x="156.5" y="362.5" width="80" height="22" fill="#fff" stroke="#111" stroke-width="2"/>
<text x="196.5" y="377" font-size="10" fill="#222" font-weight="bold" text-anchor="middle">cool white</text>
<rect x="296" y="272.6" width="88.2" height="22.4" fill="none" stroke="#b8b8b8" stroke-width="2.2"/>
<text x="340" y="287.3" font-size="10" fill="#b0b0b0" font-weight="bold" text-anchor="middle" textLength="63.4" lengthAdjust="spacingAndGlyphs">neutral white</text>
<rect x="443" y="210.3" width="83.2" height="22.4" fill="none" stroke="#e9a02e" stroke-width="2.2"/>
<text x="484.5" y="225" font-size="10" fill="#e8a030" font-weight="bold" text-anchor="middle">warm white</text>
</svg></body></html>
